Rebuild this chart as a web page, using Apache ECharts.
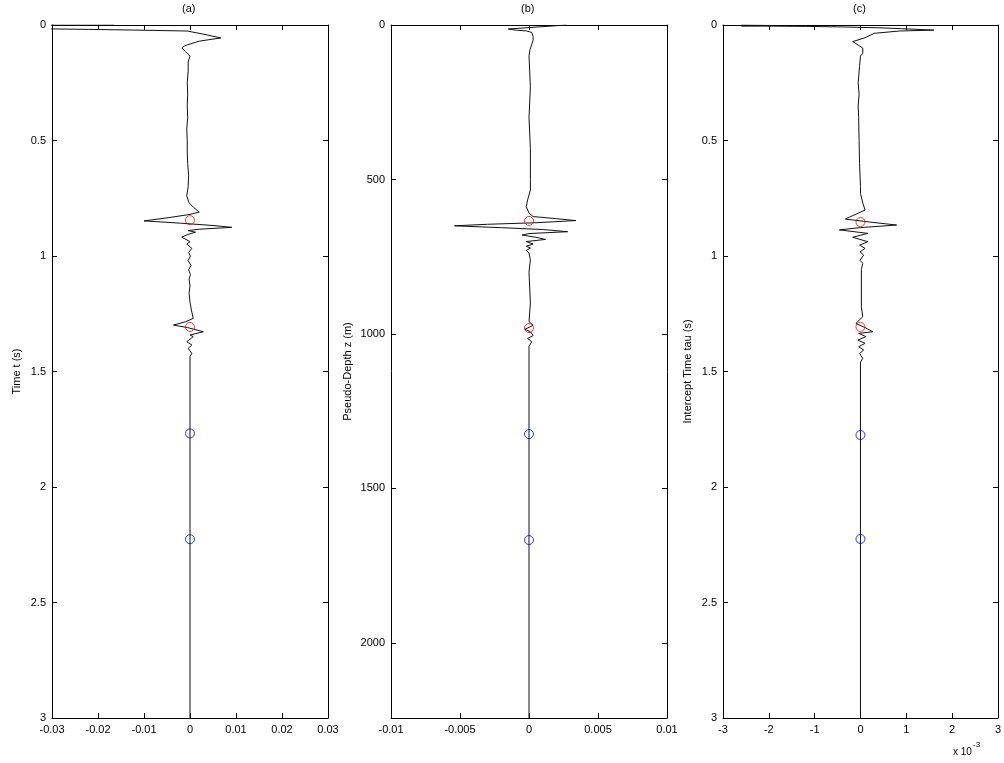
<!DOCTYPE html>
<html>
<head>
<meta charset="utf-8">
<script src="https://cdn.jsdelivr.net/npm/echarts@6/dist/echarts.min.js"></script>
<style>
html,body{margin:0;padding:0;background:#fff;}
#chart{width:1004px;height:763px;}
</style>
</head>
<body>
<div id="chart"></div>
<script>
// ---------- Panel (a): amplitude vs time t (s) ----------
var timeA = [0, 0.001, 0.016, 0.017, 0.019, 0.022, 0.026, 0.040, 0.056, 0.070, 0.090, 0.100, 0.115, 0.135, 0.160,
  0.200, 0.250, 0.300, 0.350, 0.400, 0.450, 0.500, 0.550, 0.600, 0.650, 0.700, 0.740, 0.770, 0.790, 0.810,
  0.820, 0.835, 0.848, 0.858, 0.868, 0.876, 0.884, 0.890, 0.897, 0.905, 0.918, 0.926, 0.938, 0.948, 0.967,
  0.985, 1.000, 1.020, 1.040, 1.060, 1.080, 1.100, 1.130, 1.160, 1.200, 1.234, 1.270, 1.285, 1.299, 1.310,
  1.328, 1.342, 1.349, 1.371, 1.385, 1.400, 1.421, 1.436, 3.0];
var ampA = [-0.0165, -0.06, -0.045, -0.03, -0.022, -0.012, -0.0006, 0.003, 0.0067, 0.002, -0.0012, -0.0017, -0.001, 0.0, -0.0004,
  -0.0004, -0.0006, -0.0005, -0.0006, -0.0005, -0.0007, -0.0006, -0.0006, -0.0005, -0.0003, -0.0004, -0.0007, -0.0002, 0.0008, 0.002,
  0.0, -0.005, -0.010, -0.002, 0.005, 0.0091, 0.002, -0.0004, 0.0012, -0.0002, -0.0018, -0.0022, 0.0, -0.0007, 0.0004,
  -0.0003, 0.0001, -0.0004, 0.0002, -0.0003, 0.0001, -0.0002, 0.0, -0.0002, 0.0, 0.0003, 0.0007, -0.001, -0.0036, -0.0005,
  0.0029, 0.0, 0.0007, -0.0007, 0.0004, -0.0004, 0.0004, 0.0, 0.0];
var redTimesA = [0.845, 1.307];
var blueTimesA = [1.768, 2.226];

// ---------- Panel (b): amplitude vs pseudo-depth z (m) ----------
var depthB = [0, 3, 13, 17, 19, 24, 38, 49, 80, 100, 200, 300, 400, 500, 534, 566, 588, 609, 620, 627, 633, 640,
  645, 650, 656, 662, 669, 675, 680, 687, 694, 701, 709, 716, 722, 730, 738, 760, 800, 900, 960, 972, 985,
  993, 1005, 1015, 1025, 1040, 2243];
var ampB = [0.0027, 0.0028, -0.0015, -0.0009, -0.0002, 0.0002, 0.0003, 0.0003, 0.00007, 0.0, 0.0001, 0.0, 0.0001, 0.0001,
  0.0001, -0.0001, -0.0002, 0.0, 0.0003, 0.0020, 0.0034, 0.0005, -0.0030, -0.0054, -0.0020, 0.0010, 0.0028, 0.0,
  -0.0005, 0.0005, 0.0012, -0.0002, 0.0003, -0.0002, 0.0001, -0.0002, 0.0, 0.0001, 0.0, 0.0001, 0.0, 0.0003,
  -0.0003, 0.0001, 0.0003, -0.0001, 0.0002, 0.0, 0.0];
var redDepthsB = [634, 981];
var blueDepthsB = [1324, 1667];

// ---------- Panel (c): amplitude vs intercept time tau (s) ----------
var tauC = [0, 0.002, 0.004, 0.006, 0.008, 0.012, 0.016, 0.022, 0.026, 0.036, 0.043, 0.055, 0.072, 0.080, 0.100,
  0.123, 0.135, 0.180, 0.250, 0.300, 0.350, 0.400, 0.500, 0.600, 0.700, 0.729, 0.770, 0.801, 0.840, 0.853,
  0.866, 0.877, 0.887, 0.902, 0.919, 0.938, 0.953, 0.967, 0.982, 0.996, 1.018, 1.032, 1.058, 1.220, 1.263,
  1.292, 1.310, 1.328, 1.335, 1.349, 1.364, 1.378, 1.393, 1.407, 1.422, 1.443, 1.460, 3.0];
var ampC = [-0.0026, -0.0020, -0.0026, -0.0012, -0.0005, 0.0004, 0.0009, 0.0016, 0.00085, 0.0003, 0.00027, 0.0001, -0.00017, -0.0001, 0.00005,
  0.00005, 0.0, -0.00002, -0.00005, -0.00003, -0.00005, -0.00004, -0.00003, -0.00002, 0.0, 0.0, 0.00005, 0.0001, -0.00033, 0.0002,
  0.00079, 0.0, -0.00046, 0.00016, -0.00017, 0.00016, -0.00002, 0.0001, -0.00001, 0.00007, -0.00001, 0.00005, 0.00002, 0.00002, 0.00005,
  -0.0001, 0.0001, 0.00027, -0.00004, 0.00012, -0.00006, 0.0001, -0.00004, 0.00007, -0.00002, 0.00005, 0.0, 0.0];
var redTausC = [0.853, 1.307];
var blueTausC = [1.775, 2.225];

// ---------- Axis settings ----------
var xLimits = [[-0.03, 0.03, 0.01], [-0.01, 0.01, 0.005], [-0.003, 0.003, 0.001]];
var yLimits = [[0, 3, 0.5], [0, 2243, 500], [0, 3, 0.5]];
var yNames = ['Time t (s)', 'Pseudo-Depth z (m)', 'Intercept Time tau (s)'];
var panelTitles = ['(a)', '(b)', '(c)'];

var FONT = "'Liberation Sans', Arial, sans-serif";
var gridLefts = [52, 391, 723];
var gridW = 276, gridTop = 25, gridH = 693;

function pairs(vals, ys) { return vals.map(function (v, i) { return [v, ys[i]]; }); }
function zeros(ys) { return ys.map(function (y) { return [0, y]; }); }
function plainNum(v) { return String(+v.toFixed(6)); }

var grids = [], xAxes = [], yAxes = [], series = [], graphics = [];
var traces = [pairs(ampA, timeA), pairs(ampB, depthB), pairs(ampC, tauC)];
var reds = [zeros(redTimesA), zeros(redDepthsB), zeros(redTausC)];
var blues = [zeros(blueTimesA), zeros(blueDepthsB), zeros(blueTausC)];
var nameGaps = [30, 38, 30];

for (var i = 0; i < 3; i++) {
  grids.push({ left: gridLefts[i], top: gridTop, width: gridW, height: gridH, containLabel: false });
  var lineStyle = { color: '#000', width: 1 };
  var xl = xLimits[i], yl = yLimits[i];
  var xFmt = (i === 2) ? function (v) { return String(Math.round(v * 1000)); } : plainNum;
  xAxes.push({
    gridIndex: i, type: 'value', position: 'bottom', min: xl[0], max: xl[1], interval: xl[2],
    axisLine: { show: true, onZero: false, lineStyle: lineStyle },
    axisTick: { show: true, inside: true, length: 5, lineStyle: lineStyle },
    axisLabel: { show: true, color: '#000', fontSize: 11, fontFamily: FONT, margin: 6, formatter: xFmt },
    splitLine: { show: false }
  });
  xAxes.push({
    gridIndex: i, type: 'value', position: 'top', min: xl[0], max: xl[1], interval: xl[2],
    axisLine: { show: true, onZero: false, lineStyle: lineStyle },
    axisTick: { show: true, inside: true, length: 5, lineStyle: lineStyle },
    axisLabel: { show: false }, splitLine: { show: false }
  });
  yAxes.push({
    gridIndex: i, type: 'value', position: 'left', inverse: true, min: yl[0], max: yl[1], interval: yl[2],
    name: yNames[i], nameLocation: 'middle', nameRotate: 90, nameGap: nameGaps[i],
    nameTextStyle: { color: '#000', fontSize: 11, fontFamily: FONT },
    axisLine: { show: true, onZero: false, lineStyle: lineStyle },
    axisTick: { show: true, inside: true, length: 5, lineStyle: lineStyle },
    axisLabel: { show: true, color: '#000', fontSize: 11, fontFamily: FONT, margin: 6, showMaxLabel: i !== 1, formatter: plainNum },
    splitLine: { show: false }
  });
  yAxes.push({
    gridIndex: i, type: 'value', position: 'right', inverse: true, min: yl[0], max: yl[1], interval: yl[2],
    axisLine: { show: true, onZero: false, lineStyle: lineStyle },
    axisTick: { show: true, inside: true, length: 5, lineStyle: lineStyle },
    axisLabel: { show: false }, splitLine: { show: false }
  });
  series.push({
    type: 'line', xAxisIndex: 2 * i, yAxisIndex: 2 * i, data: traces[i], showSymbol: false, symbol: 'none',
    clip: true, lineStyle: { color: '#111', width: 1 }, animation: false, silent: true, z: 2
  });
  series.push({
    type: 'scatter', xAxisIndex: 2 * i, yAxisIndex: 2 * i, data: reds[i], symbol: 'circle', symbolSize: 9,
    itemStyle: { color: 'rgba(0,0,0,0)', borderColor: '#ff0000', borderWidth: 1 }, animation: false, z: 3
  });
  series.push({
    type: 'scatter', xAxisIndex: 2 * i, yAxisIndex: 2 * i, data: blues[i], symbol: 'circle', symbolSize: 9,
    itemStyle: { color: 'rgba(0,0,0,0)', borderColor: '#0000ff', borderWidth: 1 }, animation: false, z: 3
  });
  graphics.push({
    type: 'text', left: gridLefts[i] + gridW / 2 - 8, top: 3,
    style: { text: panelTitles[i], fill: '#000', font: '11px ' + FONT }
  });
}

graphics.push({ type: 'text', left: 953, top: 747, style: { text: 'x 10', fill: '#000', font: '10px ' + FONT } });
graphics.push({ type: 'text', left: 973, top: 741, style: { text: '-3', fill: '#000', font: '8px ' + FONT } });

var chart = echarts.init(document.getElementById('chart'), null, { renderer: 'canvas' });
chart.setOption({
  backgroundColor: '#fff',
  animation: false,
  grid: grids,
  xAxis: xAxes,
  yAxis: yAxes,
  series: series,
  graphic: graphics
});
</script>
</body>
</html>
